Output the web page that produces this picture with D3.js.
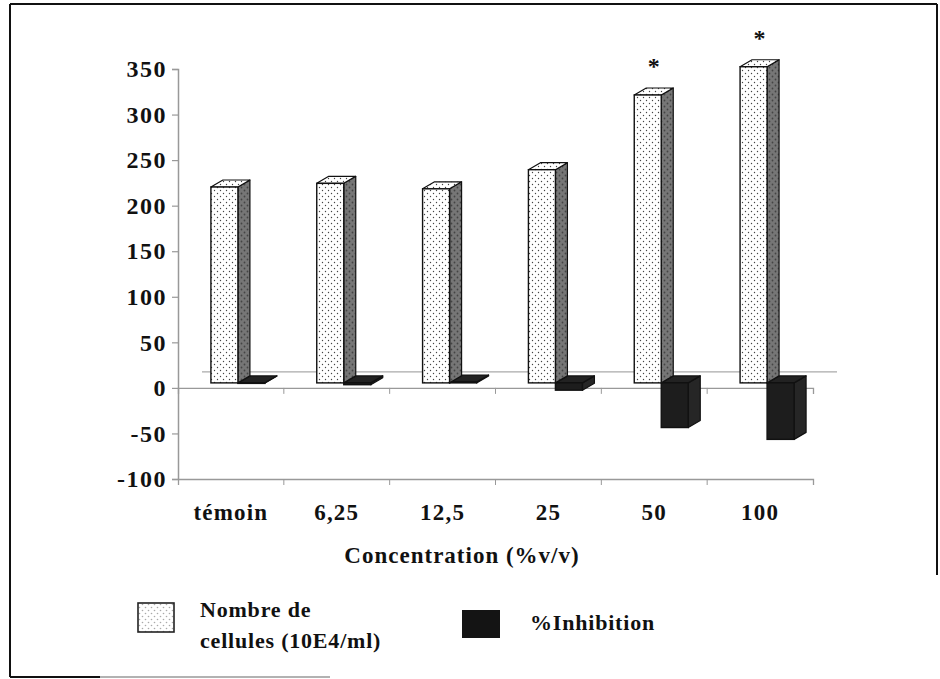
<!DOCTYPE html>
<html><head><meta charset="utf-8">
<script src="https://cdn.jsdelivr.net/npm/d3@7"></script>
<style>
html,body{margin:0;padding:0;background:#fff;}
svg{display:block;}
text{font-family:"Liberation Serif","Times New Roman",serif;font-weight:bold;fill:#111;}
</style></head><body>
<svg id="chart" width="940" height="679"></svg>
<script>
// Cell counts and % inhibition by concentration (%v/v)
const categories = ["témoin", "6,25", "12,5", "25", "50", "100"];
const cellCounts = [215, 219, 213, 234, 316, 347];
const inhibition = [0, -2, 1, -8, -49, -62];
const significance = ["", "", "", "", "*", "*"];
const yTicks = [-100, -50, 0, 50, 100, 150, 200, 250, 300, 350];
const legendCells = ["Nombre de", "cellules (10E4/ml)"];
const legendInhib = "%Inhibition";
const xTitle = "Concentration (%v/v)";

const svg = d3.select("#chart");

// oblique 3-D offsets
const barPlane = {dx: 7, dy: -5};   // plane the columns stand on, relative to the front axis
const depth = {dx: 12, dy: -7};     // thickness of each column
const wall = {dx: 24, dy: -16};     // back wall
const barW = 27;

const x = d3.scaleBand().domain(categories).range([178, 813]).padding(0);
const y = d3.scaleLinear().domain([-100, 350]).range([479, 69]);
const yb = v => y(v) + barPlane.dy;
const xc = c => x(c) + x.bandwidth() / 2 + barPlane.dx;

// patterns
const defs = svg.append("defs");
function dotPattern(id, bg, dot, r) {
  const p = defs.append("pattern").attr("id", id).attr("patternUnits", "userSpaceOnUse")
    .attr("width", 6).attr("height", 6);
  p.append("rect").attr("width", 6).attr("height", 6).attr("fill", bg);
  p.append("circle").attr("cx", 1.5).attr("cy", 1.5).attr("r", r).attr("fill", dot);
  p.append("circle").attr("cx", 4.5).attr("cy", 4.5).attr("r", r).attr("fill", dot);
}
dotPattern("dots", "#ffffff", "#444", 0.7);
dotPattern("dotsLight", "#ffffff", "#aaa", 0.8);
dotPattern("side", "#767676", "#444", 0.9);

// frame
const frame = svg.append("g").attr("fill", "none").attr("stroke", "#111").attr("stroke-width", 2);
frame.append("line").attr("x1", 10).attr("y1", 4).attr("x2", 937).attr("y2", 4);
frame.append("line").attr("x1", 10).attr("y1", 4).attr("x2", 10).attr("y2", 677);
frame.append("line").attr("x1", 937).attr("y1", 4).attr("x2", 937).attr("y2", 575);
frame.append("line").attr("x1", 10).attr("y1", 677).attr("x2", 100).attr("y2", 677);
frame.append("line").attr("x1", 100).attr("y1", 677).attr("x2", 330).attr("y2", 677)
  .attr("stroke", "#999").attr("stroke-width", 1.5);

// back wall zero line
svg.append("line")
  .attr("x1", x.range()[0] + wall.dx).attr("x2", x.range()[1] + wall.dx)
  .attr("y1", y(0) + wall.dy).attr("y2", y(0) + wall.dy)
  .attr("stroke", "#aaa").attr("stroke-width", 1.2);

// value axis
const yAxis = svg.append("g").attr("transform", `translate(${x.range()[0]},0)`)
  .call(d3.axisLeft(y).tickValues(yTicks).tickSize(6).tickPadding(5).tickFormat(d => String(d)));
yAxis.select(".domain").attr("stroke", "#999").attr("stroke-width", 1.5);
yAxis.selectAll(".tick line").attr("stroke", "#999").attr("stroke-width", 1.2);
yAxis.selectAll(".tick text")
  .attr("font-family", "Liberation Serif, Times New Roman, serif")
  .attr("font-weight", "bold").attr("font-size", 24).attr("letter-spacing", 1.5)
  .attr("fill", "#111");

// category lines at 0 and at the floor
function catLine(v) {
  const g = svg.append("g").attr("transform", `translate(0,${y(v)})`)
    .call(d3.axisBottom(x).tickSize(6).tickFormat(""));
  g.select(".domain").attr("stroke", "#999").attr("stroke-width", 1.3);
  g.selectAll(".tick line").attr("stroke", "#999").attr("transform", `translate(${x.bandwidth() / 2},0)`);
  g.selectAll(".tick").filter((d, i) => i === categories.length - 1).select("line").remove();
  return g;
}
catLine(0);
catLine(-100);

// category labels
svg.append("g").selectAll("text").data(categories).join("text")
  .attr("x", d => x(d) + x.bandwidth() / 2)
  .attr("y", 520)
  .attr("text-anchor", "middle")
  .attr("font-size", 23).attr("letter-spacing", 1.2)
  .text(d => d);

svg.append("text").attr("x", 462).attr("y", 563).attr("text-anchor", "middle")
  .attr("font-size", 23).attr("letter-spacing", 1).text(xTitle);

// prism helper: front rectangle plus top and right faces
function prism(g, x0, x1, yTop, yBot, front, side, top) {
  g.append("polygon")
    .attr("points", [[x1, yTop], [x1 + depth.dx, yTop + depth.dy], [x1 + depth.dx, yBot + depth.dy], [x1, yBot]].join(" "))
    .attr("fill", side).attr("stroke", "#111").attr("stroke-width", 1.2).attr("stroke-linejoin", "round");
  g.append("polygon")
    .attr("points", [[x0, yTop], [x0 + depth.dx, yTop + depth.dy], [x1 + depth.dx, yTop + depth.dy], [x1, yTop]].join(" "))
    .attr("fill", top).attr("stroke", "#111").attr("stroke-width", 1.2).attr("stroke-linejoin", "round");
  g.append("rect").attr("x", x0).attr("y", yTop).attr("width", x1 - x0).attr("height", Math.max(0.5, yBot - yTop))
    .attr("fill", front).attr("stroke", "#111").attr("stroke-width", 1.4);
}

// %Inhibition columns (drawn first, to the right of each cell column)
inhibition.forEach((v, i) => {
  const c = xc(categories[i]);
  const g = svg.append("g");
  prism(g, c, c + barW, Math.min(yb(0), yb(v)), Math.max(yb(0), yb(v)), "#1d1d1d", "#262626", "#222");
});

// cell count columns
cellCounts.forEach((v, i) => {
  const c = xc(categories[i]);
  const g = svg.append("g");
  prism(g, c - barW, c, yb(v), yb(0), "url(#dots)", "url(#side)", "url(#dots)");
});

// significance marks
svg.append("g").selectAll("text").data(significance).join("text")
  .attr("x", (d, i) => xc(categories[i]) - barW / 2 + depth.dx / 2)
  .attr("y", (d, i) => yb(cellCounts[i]) + depth.dy - 14)
  .attr("text-anchor", "middle").attr("font-size", 24)
  .text(d => d);

// legend
svg.append("rect").attr("x", 138).attr("y", 603).attr("width", 36).attr("height", 29)
  .attr("fill", "url(#dotsLight)").attr("stroke", "#222").attr("stroke-width", 1.6);
svg.append("g").selectAll("text").data(legendCells).join("text")
  .attr("x", 200).attr("y", (d, i) => 617 + i * 31)
  .attr("font-size", 22).attr("letter-spacing", 0.8).text(d => d);
svg.append("rect").attr("x", 462).attr("y", 610).attr("width", 38).attr("height", 28)
  .attr("fill", "#141414");
svg.append("text").attr("x", 530).attr("y", 630).attr("font-size", 22).attr("letter-spacing", 0.8)
  .text(legendInhib);
</script>
</body></html>
